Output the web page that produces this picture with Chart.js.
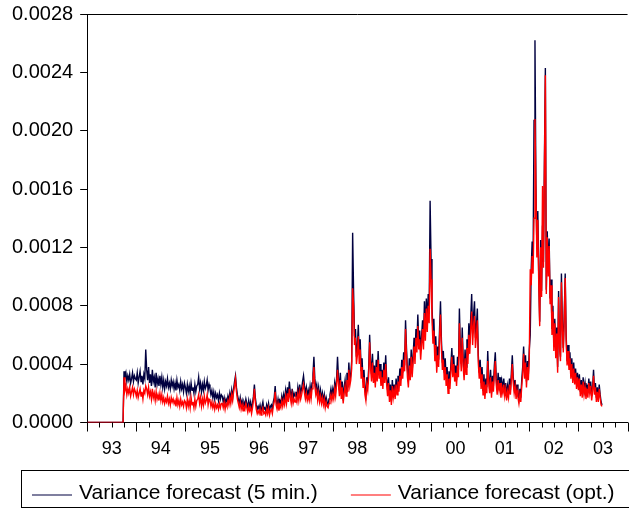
<!DOCTYPE html>
<html>
<head>
<meta charset="utf-8">
<script src="https://cdn.jsdelivr.net/npm/chart.js@4.4.0/dist/chart.umd.min.js"></script>
<style>
    body { margin: 0; background: #fff; }
    canvas { display: block; }
</style>
</head>
<body>
<canvas id="varianceChart" width="629" height="509"></canvas>
<script>
// weekly observations, first one at the start of 1993, values in units of 1e-4
const startYear = 1993;
const weeksPerYear = 52;
const yearLabels = ['93', '94', '95', '96', '97', '98', '99', '00', '01', '02', '03'];

const fiveMin = [
    0, 0, 0, 0, 0, 0, 0, 0, 0, 0, 0, 0, 0, 0, 0, 0, 0, 0, 0, 0,
    0, 0, 0, 0, 0, 0, 0, 0, 0, 0, 0, 0, 0, 0, 0, 0, 0, 0, 0,
    3.5, 3.1, 3.4, 2.8, 3.2, 2.9, 3.3, 2.7, 3.0, 3.4, 2.8, 3.2, 3.0,
    // 1994
    2.9, 3.4, 2.7, 3.1, 3.5, 2.8, 3.2, 2.6, 3.3, 3.0, 5.0, 3.6, 2.9,
    3.8, 2.7, 3.3, 2.5, 3.6, 2.8, 3.1, 2.4, 3.4, 2.6, 3.0, 2.5, 3.2,
    2.6, 3.1, 2.4, 2.9, 2.3, 2.8, 2.5, 3.0, 2.4, 2.7, 2.3, 2.9, 2.5,
    2.8, 2.3, 2.7, 2.2, 2.9, 2.4, 2.6, 2.2, 2.8, 2.3, 2.6, 2.1, 2.7,
    // 1995
    2.4, 2.0, 2.6, 2.1, 2.5, 2.0, 2.7, 2.2, 2.4, 2.0, 2.6, 2.1, 2.5,
    2.6, 3.1, 2.3, 2.7, 2.1, 2.6, 2.2, 2.8, 2.3, 2.5, 2.9, 2.2, 2.6,
    2.3, 1.9, 2.2, 1.7, 2.1, 1.6, 2.0, 1.7, 1.9, 1.5, 2.0, 1.6, 1.9,
    1.8, 1.4, 1.7, 1.3, 1.6, 1.4, 1.8, 1.5, 2.0, 1.6, 2.2, 1.7, 2.3,
    // 1996
    2.8, 3.2, 2.4, 1.9, 1.6, 1.3, 1.7, 1.2, 1.5, 1.1, 1.4, 1.2, 1.6,
    1.3, 1.0, 1.5, 1.1, 1.4, 0.9, 1.3, 1.8, 2.6, 1.7, 1.2, 0.9, 1.1,
    0.9, 1.2, 0.8, 1.1, 1.4, 0.9, 1.0, 0.8, 1.2, 0.9, 1.3, 0.8, 1.1,
    1.2, 0.9, 1.4, 1.7, 2.5, 1.5, 1.2, 1.6, 1.1, 1.5, 1.3, 1.8, 1.4,
    // 1997
    1.9, 1.5, 2.2, 1.7, 2.4, 1.8, 2.8, 2.1, 1.7, 2.3, 1.6, 2.0, 1.8,
    2.1, 1.7, 2.4, 1.9, 2.6, 2.0, 2.3, 2.8, 3.2, 2.5, 2.0, 2.4, 1.8,
    2.2, 1.8, 2.5, 2.0, 2.7, 3.3, 4.5, 3.0, 2.3, 2.6, 1.9, 2.4, 1.7,
    2.2, 1.6, 2.0, 1.5, 1.9, 1.3, 1.7, 1.4, 1.2, 1.6, 1.9, 2.3, 1.8,
    // 1998
    2.3, 1.9, 2.7, 2.2, 3.0, 4.5, 3.1, 2.2, 3.4, 1.9, 2.8, 1.5, 2.4,
    2.9, 2.1, 3.4, 2.4, 4.1, 2.8, 3.3, 4.2, 13.0, 9.0, 5.9, 6.4, 4.5,
    5.2, 6.7, 4.6, 5.7, 3.5, 4.4, 2.8, 3.6, 2.3, 1.9, 3.1, 2.6, 3.7,
    6.0, 4.2, 3.3, 4.7, 3.1, 3.9, 2.8, 4.3, 3.2, 4.9, 3.4, 4.0, 2.9,
    // 1999
    3.6, 2.7, 4.1, 3.2, 4.6, 3.0, 2.2, 3.1, 1.8, 2.6, 1.5, 2.9, 2.0,
    2.6, 1.9, 3.0, 2.3, 3.2, 2.5, 3.7, 2.9, 4.3, 3.4, 4.8, 3.9, 7.0,
    5.1, 3.6, 2.8, 4.4, 3.3, 5.0, 3.5, 4.6, 5.8, 4.5, 6.4, 5.3, 7.4,
    5.5, 6.3, 4.9, 5.9, 7.0, 5.6, 8.3, 6.2, 8.5, 6.9, 8.8, 7.5, 15.2,
    // 2000
    11.2, 8.1, 6.0, 7.1, 4.8, 5.9, 3.9, 5.2, 4.3, 6.4, 8.3, 5.6, 4.1,
    4.9, 3.4, 4.4, 3.0, 3.8, 2.4, 3.5, 2.7, 4.0, 5.1, 3.6, 4.6, 3.2,
    3.9, 2.9, 4.5, 3.6, 7.8, 5.2, 4.0, 6.5, 4.4, 3.3, 5.0, 3.8, 5.7,
    4.6, 6.8, 5.4, 7.2, 8.8, 6.1, 7.4, 8.3, 5.8, 6.6, 7.8, 4.6, 3.4,
    // 2001
    4.3, 2.7, 3.8, 2.2, 3.3, 1.9, 3.0, 2.4, 4.9, 3.1, 2.3, 3.6, 2.0,
    3.2, 2.5, 3.9, 4.8, 3.0, 2.2, 3.4, 2.6, 3.1, 2.0, 2.8, 2.3, 3.0,
    2.1, 2.7, 1.8, 2.5, 2.0, 3.0, 2.2, 3.4, 4.6, 3.1, 2.4, 2.9, 1.9,
    2.6, 2.0, 1.6, 2.3, 1.7, 2.9, 3.8, 5.2, 3.4, 4.6, 2.8, 4.2, 3.3,
    // 2002
    5.0, 6.0, 10.5, 12.4, 11.0, 20.7, 26.2, 16.3, 12.0, 14.5, 10.0, 6.9, 12.5,
    9.0, 13.5, 11.0, 18.0, 24.3, 9.1, 13.1, 10.5, 12.6, 8.5, 9.8, 6.4, 8.0,
    5.2, 7.1, 4.8, 6.5, 3.8, 9.0, 5.5, 4.5, 10.2, 6.8, 5.1, 7.5, 10.2,
    6.0, 4.2, 5.3, 3.9, 4.8, 3.3, 4.4, 3.0, 4.1, 2.9, 3.7, 2.6, 3.4,
    // 2003
    2.5, 3.3, 2.1, 2.9, 2.0, 3.1, 2.2, 2.7, 1.9, 2.6, 2.0, 3.0, 2.3,
    2.8, 1.8, 2.4, 3.6, 2.2, 2.7, 1.7, 2.4, 1.6, 2.6, 1.9, 1.4, 1.2
];

const optimal = [
    0, 0, 0, 0, 0, 0, 0, 0, 0, 0, 0, 0, 0, 0, 0, 0, 0, 0, 0, 0,
    0, 0, 0, 0, 0, 0, 0, 0, 0, 0, 0, 0, 0, 0, 0, 0, 0, 0, 0,
    3.1, 2.2, 2.5, 1.9, 2.3, 2.0, 2.4, 1.8, 2.1, 2.4, 1.9, 2.3, 2.1,
    // 1994
    1.8, 2.2, 1.7, 2.0, 2.3, 1.8, 2.1, 1.6, 2.2, 2.0, 2.5, 2.3, 1.9,
    2.4, 1.8, 2.1, 1.6, 2.3, 1.7, 2.0, 1.5, 2.1, 1.6, 1.9, 1.5, 2.0,
    1.5, 1.9, 1.4, 1.7, 1.3, 1.6, 1.4, 1.8, 1.3, 1.6, 1.2, 1.7, 1.4,
    1.6, 1.3, 1.5, 1.1, 1.7, 1.2, 1.5, 1.1, 1.6, 1.2, 1.4, 1.1, 1.5,
    // 1995
    1.4, 1.0, 1.6, 1.1, 1.5, 1.0, 1.7, 1.2, 1.4, 1.0, 1.6, 1.1, 1.5,
    1.6, 1.9, 1.3, 1.7, 1.1, 1.6, 1.2, 1.8, 1.3, 1.5, 1.9, 1.2, 1.6,
    1.5, 1.1, 1.4, 1.0, 1.3, 0.9, 1.3, 1.0, 1.2, 0.9, 1.3, 1.0, 1.3,
    1.3, 1.0, 1.4, 0.9, 1.3, 1.1, 1.5, 1.2, 1.7, 1.3, 1.9, 1.5, 2.1,
    // 1996
    2.5, 3.0, 2.1, 1.6, 1.3, 1.0, 1.4, 0.9, 1.2, 0.8, 1.1, 0.9, 1.3,
    1.0, 0.7, 1.1, 0.8, 1.0, 0.6, 1.0, 1.5, 2.3, 1.4, 0.9, 0.6, 0.8,
    0.6, 0.9, 0.5, 0.8, 1.0, 0.6, 0.7, 0.5, 0.9, 0.6, 1.0, 0.5, 0.8,
    0.9, 0.6, 1.1, 1.4, 2.1, 1.2, 0.9, 1.3, 0.8, 1.2, 1.0, 1.5, 1.1,
    // 1997
    1.5, 1.2, 1.8, 1.3, 2.0, 1.4, 2.3, 1.7, 1.3, 1.9, 1.3, 1.6, 1.4,
    1.7, 1.4, 2.0, 1.5, 2.1, 1.6, 1.9, 2.3, 2.6, 2.0, 1.6, 2.0, 1.5,
    1.8, 1.5, 2.1, 1.6, 2.3, 2.8, 3.8, 2.5, 1.9, 2.2, 1.5, 2.0, 1.4,
    1.8, 1.3, 1.7, 1.2, 1.6, 1.0, 1.4, 1.1, 1.0, 1.3, 1.6, 1.9, 1.5,
    // 1998
    1.9, 1.6, 2.3, 1.8, 2.6, 3.6, 2.6, 1.8, 2.9, 1.6, 2.4, 1.3, 2.0,
    2.5, 1.8, 2.9, 2.1, 3.6, 2.5, 2.9, 3.7, 9.2, 8.0, 5.3, 5.8, 4.0,
    4.6, 5.9, 4.0, 5.0, 3.0, 3.8, 2.4, 3.1, 1.9, 1.5, 2.6, 2.2, 3.2,
    5.5, 3.7, 2.8, 4.1, 2.7, 3.4, 2.4, 3.8, 2.8, 4.3, 3.0, 3.5, 2.5,
    // 1999
    3.1, 2.3, 3.6, 2.7, 4.0, 2.6, 1.8, 2.7, 1.4, 2.2, 1.2, 2.5, 1.7,
    2.2, 1.6, 2.6, 1.9, 2.8, 2.1, 3.2, 2.5, 3.8, 3.0, 4.3, 3.5, 6.4,
    4.6, 3.1, 2.4, 3.9, 2.9, 4.5, 3.1, 4.1, 5.2, 4.0, 5.8, 4.8, 6.6,
    5.0, 5.7, 4.3, 5.3, 6.4, 5.0, 7.5, 5.6, 7.8, 6.2, 8.0, 6.8, 11.9,
    // 2000
    9.8, 7.2, 5.4, 6.3, 4.2, 5.3, 3.4, 4.6, 3.8, 5.8, 7.4, 5.0, 3.6,
    4.3, 2.9, 3.8, 2.5, 3.3, 2.0, 3.0, 2.3, 3.5, 4.5, 3.1, 4.0, 2.8,
    3.4, 2.5, 3.9, 3.1, 6.8, 4.6, 3.5, 5.8, 3.8, 2.9, 4.4, 3.3, 5.1,
    4.0, 6.0, 4.7, 6.4, 7.6, 5.3, 6.6, 7.3, 5.1, 5.9, 7.0, 4.1, 3.0,
    // 2001
    3.8, 2.3, 3.3, 1.9, 2.8, 1.6, 2.6, 2.0, 4.2, 2.7, 2.0, 3.1, 1.7,
    2.8, 2.1, 3.4, 4.2, 2.6, 1.9, 2.9, 2.2, 2.7, 1.7, 2.4, 2.0, 2.6,
    1.8, 2.3, 1.5, 2.1, 1.7, 2.6, 1.9, 2.9, 4.0, 2.7, 2.0, 2.5, 1.6,
    2.2, 1.7, 1.3, 1.9, 1.4, 2.5, 3.3, 4.7, 3.0, 4.1, 2.4, 3.8, 2.9,
    // 2002
    4.4, 10.5, 9.4, 11.4, 10.2, 14.0, 20.8, 16.0, 11.3, 13.9, 9.5, 6.6, 12.0,
    8.6, 16.2, 10.6, 17.3, 23.8, 8.8, 12.7, 10.0, 12.1, 8.1, 9.4, 6.0, 7.6,
    4.9, 6.8, 4.4, 6.1, 3.4, 8.6, 5.1, 4.2, 9.6, 6.3, 4.8, 7.1, 9.9,
    5.6, 3.9, 4.9, 3.6, 4.4, 3.0, 4.0, 2.7, 3.7, 2.6, 3.4, 2.3, 3.1,
    // 2003
    2.2, 3.0, 1.8, 2.6, 1.7, 2.8, 1.9, 2.4, 1.6, 2.3, 1.7, 2.7, 2.0,
    2.5, 1.5, 2.1, 3.2, 1.9, 2.4, 1.4, 2.1, 1.4, 2.3, 1.7, 1.2, 1.1
];

const FONT = '"Liberation Sans", Arial, Helvetica, sans-serif';

document.addEventListener('DOMContentLoaded', function () {
    const toPoints = values => values.map((v, i) => ({ x: startYear + i / weeksPerYear, y: v }));

    // frame top line, quarterly x tick marks and the boxed legend
    const framePlugin = {
        id: 'framePlugin',
        afterDraw(chart) {
            const ctx = chart.ctx;
            const area = chart.chartArea;
            const xs = chart.scales.x;
            ctx.save();
            ctx.strokeStyle = '#000';
            ctx.lineWidth = 1;
            ctx.beginPath();
            ctx.moveTo(area.left, Math.round(area.top) + 0.5);
            ctx.lineTo(area.right, Math.round(area.top) + 0.5);
            ctx.stroke();

            const y0 = Math.round(area.bottom) + 0.5;
            for (let q = 0; q <= 44; q++) {
                const v = startYear + q / 4;
                const px = Math.round(xs.getPixelForValue(v)) + 0.5;
                ctx.beginPath();
                ctx.moveTo(px, y0);
                ctx.lineTo(px, y0 + (q % 4 === 0 ? 9 : 5));
                ctx.stroke();
            }

            // legend
            ctx.strokeRect(21.5, 470.5, chart.width, 37);
            ctx.font = '21px ' + FONT;
            ctx.textBaseline = 'middle';
            ctx.textAlign = 'left';
            let x = 32;
            chart.data.datasets.forEach(ds => {
                ctx.strokeStyle = ds.borderColor;
                ctx.lineWidth = 1.2;
                ctx.beginPath();
                ctx.moveTo(x, 495);
                ctx.lineTo(x + 40, 495);
                ctx.stroke();
                ctx.fillStyle = '#000';
                ctx.fillText(ds.label, x + 47, 493);
                x += 47 + ctx.measureText(ds.label).width + 33;
            });
            ctx.restore();
        }
    };

    new Chart(document.getElementById('varianceChart').getContext('2d'), {
        type: 'line',
        data: {
            datasets: [{
                label: 'Variance forecast (5 min.)',
                data: toPoints(fiveMin),
                borderColor: '#000040',
                borderWidth: 1.4,
                pointRadius: 0,
                order: 1
            }, {
                label: 'Variance forecast (opt.)',
                data: toPoints(optimal),
                borderColor: '#ff0000',
                borderWidth: 1.4,
                pointRadius: 0,
                order: 0
            }]
        },
        options: {
            responsive: false,
            animation: false,
            devicePixelRatio: 1,
            layout: {
                padding: { left: 5, right: 0, top: 14, bottom: 33 }
            },
            plugins: {
                legend: { display: false },
                tooltip: { enabled: false }
            },
            scales: {
                x: {
                    type: 'linear',
                    min: 1993,
                    max: 2004,
                    afterBuildTicks: scale => {
                        scale.ticks = yearLabels.map((lbl, i) => ({ value: startYear + i + 0.5 }));
                    },
                    grid: { display: false, drawTicks: false },
                    border: { display: true, color: '#000', width: 1 },
                    ticks: {
                        autoSkip: false,
                        maxRotation: 0,
                        padding: 16,
                        color: '#000',
                        font: { family: FONT, size: 18 },
                        callback: function (value) {
                            return yearLabels[Math.floor(value - startYear)];
                        }
                    }
                },
                y: {
                    min: 0,
                    max: 28,
                    afterFit: scale => {
                        // let the layout padding alone decide where the plot starts
                        scale.paddingTop = 0;
                    },
                    grid: {
                        display: true,
                        drawOnChartArea: false,
                        drawTicks: true,
                        tickLength: 7,
                        color: '#000'
                    },
                    border: { display: true, color: '#000', width: 1 },
                    ticks: {
                        stepSize: 4,
                        padding: 7,
                        color: '#000',
                        font: { family: FONT, size: 20 },
                        callback: value => (value / 10000).toFixed(4)
                    }
                }
            }
        },
        plugins: [framePlugin]
    });
});
</script>
</body>
</html>
